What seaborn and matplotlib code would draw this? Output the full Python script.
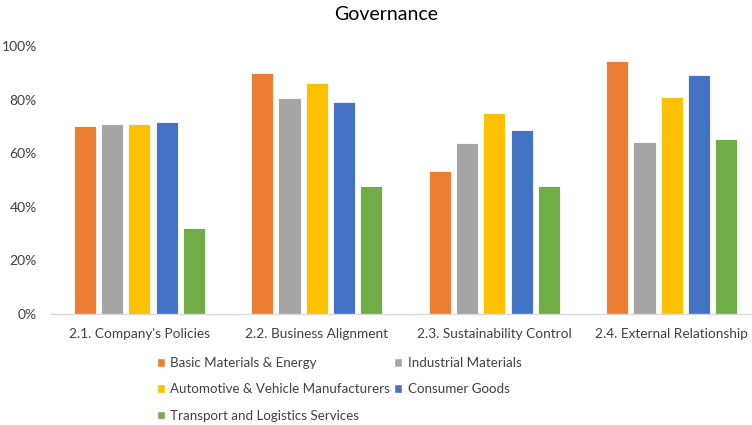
import matplotlib
matplotlib.use("Agg")
import matplotlib.pyplot as plt
import seaborn as sns
import pandas as pd
from matplotlib.patches import Patch
from matplotlib.ticker import PercentFormatter

categories = ["2.1. Company's Policies", "2.2. Business Alignment",
              "2.3. Sustainability Control", "2.4. External Relationship"]
series = ["Basic Materials & Energy", "Industrial Materials",
          "Automotive & Vehicle Manufacturers", "Consumer Goods",
          "Transport and Logistics Services"]
basic = [0.700, 0.900, 0.532, 0.943]
industrial = [0.709, 0.805, 0.638, 0.640]
automotive = [0.709, 0.861, 0.751, 0.810]
consumer = [0.718, 0.791, 0.687, 0.892]
transport = [0.321, 0.476, 0.476, 0.653]
colors = ["#ED7D31", "#A5A5A5", "#FFC000", "#4472C4", "#70AD47"]
yticks = [0, 0.2, 0.4, 0.6, 0.8, 1.0]

values = [basic, industrial, automotive, consumer, transport]
rows = []
for s, vals in zip(series, values):
    for c, v in zip(categories, vals):
        rows.append({"Category": c, "Series": s, "Value": v})
df = pd.DataFrame(rows)

sns.set_theme(style="white")
plt.rcParams["font.family"] = ["Lato", "DejaVu Sans"]

W, H = 752, 425
fig = plt.figure(figsize=(W / 100, H / 100), dpi=100)
ax = fig.add_axes([50.5 / W, (H - 314) / H, (W - 50.5) / W, 268 / H])

sns.barplot(data=df, x="Category", y="Value", hue="Series", order=categories,
            hue_order=series, palette=colors, width=0.769, gap=0.19,
            edgecolor="white", linewidth=0.6, saturation=1, legend=False, ax=ax)

ax.set_xlim(-0.5, (W - 139.3) / 177.5)
ax.set_ylim(0, 1.0)
ax.set_yticks(yticks)
ax.yaxis.set_major_formatter(PercentFormatter(1.0, decimals=0))
ax.set_xlabel("")
ax.set_ylabel("")
for s in ["top", "right", "left"]:
    ax.spines[s].set_visible(False)
ax.spines["bottom"].set_color("#D9D9D9")
ax.spines["bottom"].set_linewidth(1.0)
ax.tick_params(axis="both", length=0, labelsize=10, labelcolor="#404040")
ax.tick_params(axis="x", labelsize=9.8)
ax.tick_params(axis="y", pad=10)
ax.tick_params(axis="x", pad=10)
ax.grid(False)

fig.text(386.5 / W, 1 - 15 / H, "Governance", ha="center", va="center",
         fontsize=14, color="#000000")

order = [0, 2, 4, 1, 3]
handles = [Patch(facecolor=colors[i], label=series[i]) for i in order]
fig.legend(handles=handles, loc="upper left", bbox_to_anchor=(157 / W, 1 - 357 / H),
           ncol=2, frameon=False, fontsize=9.6, handlelength=0.6, handleheight=0.6,
           handletextpad=0.4, columnspacing=0.3, labelspacing=1.08,
           labelcolor="#404040", borderaxespad=0, borderpad=0)

fig.savefig("out.png", dpi=100)
